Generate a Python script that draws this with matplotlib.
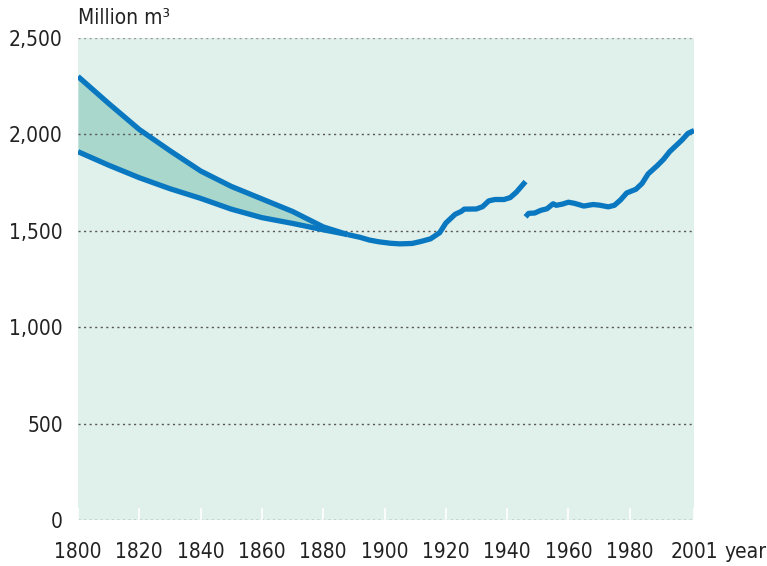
import matplotlib
matplotlib.use("Agg")
import matplotlib.pyplot as plt
import numpy as np

plt.rcParams['font.family'] = ['DejaVu Sans']
plt.rcParams['font.stretch'] = 'condensed'

# early estimates: upper and lower bound (1800-1888)
band_years = [1800, 1810, 1820, 1830, 1840, 1850, 1860, 1870, 1880, 1888]
band_upper = [2300, 2160, 2025, 1915, 1810, 1730, 1665, 1600, 1520, 1480]
band_lower = [1910, 1840, 1775, 1718, 1668, 1612, 1568, 1538, 1505, 1480]

# single series 1888-1946
mid_years = [1888, 1892, 1895, 1898, 1902, 1905, 1909, 1912, 1915, 1918,
             1920, 1923, 1925, 1926, 1930, 1932, 1934, 1936, 1939, 1941,
             1943, 1946]
mid_vals = [1480, 1466, 1452, 1443, 1435, 1432, 1434, 1445, 1458, 1490,
            1540, 1585, 1600, 1612, 1613, 1625, 1655, 1662, 1662, 1672,
            1700, 1755]

# series after the break 1946-2001
late_years = [1946, 1947, 1949, 1951, 1953, 1955, 1956, 1958, 1960, 1962,
              1965, 1968, 1970, 1973, 1975, 1977, 1979, 1982, 1984, 1986,
              1989, 1991, 1993, 1995, 1997, 1999, 2001]
late_vals = [1572, 1590, 1592, 1606, 1614, 1640, 1632, 1638, 1648, 1642,
             1628, 1636, 1633, 1624, 1632, 1660, 1696, 1715, 1745, 1795,
             1838, 1870, 1910, 1940, 1970, 2005, 2020]

xticks = [1800, 1820, 1840, 1860, 1880, 1900, 1920, 1940, 1960, 1980, 2001]
yticks = [0, 500, 1000, 1500, 2000, 2500]

blue = '#0a78c0'
fig = plt.figure(figsize=(7.67, 5.66), dpi=100)
ax = fig.add_axes([0.1017, 0.0813, 0.8033, 0.8517])
ax.set_facecolor('#e0f0eb')

ax.fill_between(band_years, band_lower, band_upper, color='#a9d7cc', lw=0)
for ys in (band_upper, band_lower):
    ax.plot(band_years, ys, color=blue, lw=3.8, solid_capstyle='butt')
ax.plot(mid_years, mid_vals, color=blue, lw=3.8, solid_capstyle='butt')
ax.plot(late_years, late_vals, color=blue, lw=3.8, solid_capstyle='butt')

for y in yticks:
    c = '#999999' if y == 2500 else '#555555'
    ax.axhline(y, color=c, lw=1, ls=(0, (1.5, 2.5)), zorder=1)

ax.set_xlim(1800, 2001)
ax.set_ylim(0, 2500)
ax.set_xticks(xticks)
ax.set_yticks(yticks)
ax.set_yticklabels(['0', '500', '1,000', '1,500', '2,000', '2,500'])
for s in ax.spines.values():
    s.set_visible(False)
ax.tick_params(axis='x', direction='in', length=9, width=1.2, color='white',
               pad=16, labelsize=15, labelcolor='#222222')
ax.tick_params(axis='y', length=0, pad=11, labelsize=15, labelcolor='#222222')

fig.text(0.1017, 0.968, 'Million m³', fontsize=15, color='#222222',
         va='center', ha='left')
fig.text(0.972, 0.025, 'year', fontsize=15, color='#222222',
         va='center', ha='center')

fig.savefig('out.png', dpi=100)
